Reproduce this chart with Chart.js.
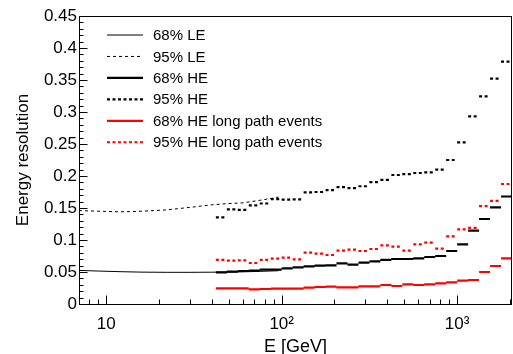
<!DOCTYPE html>
<html>
<head>
<meta charset="utf-8">
<script src="https://cdn.jsdelivr.net/npm/chart.js@4.4.1/dist/chart.umd.min.js"></script>
<style>
  body { margin: 0; background: #fff; }
  canvas { display: block; }
</style>
</head>
<body>
<canvas id="resChart" width="513" height="354"></canvas>
<script>
const FONT = "'Liberation Sans', Arial, Helvetica, sans-serif";

// HE histogram bin edges in GeV (16 bins per decade)
const binEdges = [42.17, 48.70, 56.23, 64.94, 74.99, 86.60, 100.0, 115.48, 133.35, 153.99,
  177.83, 205.35, 237.14, 273.84, 316.23, 365.17, 421.70, 486.97, 562.34, 649.38,
  749.89, 865.96, 1000.0, 1154.78, 1333.52, 1539.93, 1778.28, 2053.53];

const he68 = [0.0495, 0.0505, 0.0516, 0.052, 0.0536, 0.0536, 0.0557, 0.0573, 0.0589, 0.0600,
  0.0604, 0.0635, 0.0615, 0.0646, 0.0667, 0.0688, 0.0703, 0.0703, 0.0714, 0.0734,
  0.075, 0.0828, 0.0932, 0.1146, 0.1328, 0.151, 0.168];
const he95 = [0.1354, 0.148, 0.147, 0.154, 0.157, 0.164, 0.163, 0.1636, 0.1745, 0.175,
  0.178, 0.1825, 0.181, 0.184, 0.1905, 0.194, 0.2016, 0.203, 0.2047, 0.2057,
  0.210, 0.225, 0.2526, 0.2933, 0.3245, 0.352, 0.3786];
const lp68 = [0.0245, 0.0245, 0.0245, 0.0229, 0.0234, 0.024, 0.024, 0.024, 0.0255, 0.0266,
  0.0271, 0.026, 0.026, 0.0276, 0.0276, 0.0297, 0.0281, 0.0307, 0.0297, 0.0307,
  0.0323, 0.0339, 0.0365, 0.0375, 0.05, 0.0594, 0.0714];
const lp95 = [0.0688, 0.0677, 0.0682, 0.0641, 0.0688, 0.0708, 0.0724, 0.0698, 0.0802, 0.0786,
  0.0766, 0.0833, 0.0849, 0.0828, 0.0859, 0.0917, 0.0896, 0.0833, 0.0932, 0.0958,
  0.0865, 0.1057, 0.1167, 0.1188, 0.153, 0.161, 0.1875];

// LE curves
const leEnergy68 = [7, 9, 12, 16, 22, 30, 40, 55, 75, 96];
const le68 = [0.0525, 0.0515, 0.0505, 0.0498, 0.0495, 0.0495, 0.0497, 0.05, 0.051, 0.052];
const leEnergy95 = [7, 9, 12, 16, 22, 30, 40, 50, 60, 75, 96];
const le95 = [0.146, 0.145, 0.144, 0.145, 0.147, 0.151, 0.155, 0.157, 0.158, 0.162, 0.167];

const xTicks = [10, 100, 1000];
const xTickLabels = ['10', '10\u00B2', '10\u00B3'];
const xMinorTicks = [8, 9, 20, 30, 40, 50, 60, 70, 80, 90, 200, 300, 400, 500, 600, 700, 800, 900, 2000];
const yTicks = [0, 0.05, 0.1, 0.15, 0.2, 0.25, 0.3, 0.35, 0.4, 0.45];
const yTickLabels = ['0', '0.05', '0.1', '0.15', '0.2', '0.25', '0.3', '0.35', '0.4', '0.45'];

const seriesLabels = ['68% LE', '95% LE', '68% HE', '95% HE',
  '68% HE long path events', '95% HE long path events'];

// one horizontal segment per bin, broken between bins
function histPoints(vals) {
  const pts = [];
  vals.forEach((v, i) => {
    pts.push({x: binEdges[i], y: v}, {x: binEdges[i + 1], y: v}, {x: binEdges[i + 1], y: null});
  });
  return pts;
}

function curvePoints(xs, ys) {
  return xs.map((x, i) => ({x: x, y: ys[i]}));
}

const dotted = [3, 2.5];

const datasets = [
  {label: seriesLabels[0], data: curvePoints(leEnergy68, le68), borderColor: '#000', borderWidth: 1},
  {label: seriesLabels[1], data: curvePoints(leEnergy95, le95), borderColor: '#000', borderWidth: 1, borderDash: [3, 3]},
  {label: seriesLabels[2], data: histPoints(he68), borderColor: '#000', borderWidth: 2.2},
  {label: seriesLabels[3], data: histPoints(he95), borderColor: '#000', borderWidth: 2.2, borderDash: dotted},
  {label: seriesLabels[4], data: histPoints(lp68), borderColor: '#ff0000', borderWidth: 2.2},
  {label: seriesLabels[5], data: histPoints(lp95), borderColor: '#ff0000', borderWidth: 2.2, borderDash: dotted}
];
datasets.forEach(d => { d.pointRadius = 0; d.tension = 0; d.spanGaps = false; d.fill = false; });

// frame, inward ticks and legend box drawn on top of the plot
const framePlugin = {
  id: 'frame',
  afterDraw(chart) {
    const ctx = chart.ctx;
    const area = chart.chartArea;
    const xs = chart.scales.x, ys = chart.scales.y;
    ctx.save();
    ctx.strokeStyle = '#000';
    ctx.lineWidth = 1;
    ctx.setLineDash([]);
    ctx.strokeRect(Math.round(area.left) + 0.5, Math.round(area.top) + 0.5,
      Math.round(area.right - area.left) - 1, Math.round(area.bottom - area.top));

    ctx.beginPath();
    const bottom = Math.round(area.bottom) + 0.5;
    xTicks.forEach(v => {
      const px = Math.round(xs.getPixelForValue(v)) + 0.5;
      ctx.moveTo(px, bottom); ctx.lineTo(px, bottom - 9);
    });
    xMinorTicks.forEach(v => {
      const px = Math.round(xs.getPixelForValue(v)) + 0.5;
      ctx.moveTo(px, bottom); ctx.lineTo(px, bottom - 5);
    });
    const left = Math.round(area.left) + 0.5;
    for (let i = 0; i <= 45; i++) {
      const py = Math.round(ys.getPixelForValue(i / 100)) + 0.5;
      const len = i % 5 === 0 ? 8 : 4;
      ctx.moveTo(left, py); ctx.lineTo(left + len, py);
    }
    ctx.stroke();

    // legend
    ctx.font = '15px ' + FONT;
    ctx.textBaseline = 'middle';
    ctx.fillStyle = '#000';
    chart.data.datasets.forEach((d, i) => {
      const y = 35 + i * 21.45;
      ctx.beginPath();
      ctx.setLineDash(d.borderDash || []);
      ctx.lineWidth = d.borderWidth;
      ctx.strokeStyle = d.borderColor;
      ctx.moveTo(107, y); ctx.lineTo(143, y);
      ctx.stroke();
      ctx.fillText(d.label, 153, y + 1);
    });
    ctx.restore();
  }
};

new Chart(document.getElementById('resChart'), {
  type: 'line',
  data: {datasets: datasets},
  plugins: [framePlugin],
  options: {
    responsive: false,
    animation: false,
    events: [],
    layout: {padding: {top: 16, right: 1, left: 0, bottom: 0}},
    plugins: {legend: {display: false}, tooltip: {enabled: false}},
    scales: {
      x: {
        type: 'logarithmic',
        min: 7,
        max: 2053.53,
        grid: {display: false, drawTicks: false},
        border: {display: false},
        afterBuildTicks: s => { s.ticks = xTicks.map(v => ({value: v, major: true})); },
        afterFit: s => { s.height = 50; },
        ticks: {
          autoSkip: false,
          maxRotation: 0,
          padding: 10,
          color: '#000',
          font: {family: FONT, size: 17},
          callback: (v, i) => xTickLabels[i]
        },
        title: {
          display: true,
          text: 'E [GeV]',
          color: '#000',
          font: {family: FONT, size: 18, lineHeight: 1},
          padding: {top: 0, bottom: -2}
        }
      },
      y: {
        type: 'linear',
        min: 0,
        max: 0.45,
        grid: {display: false, drawTicks: false},
        border: {display: false},
        afterBuildTicks: s => { s.ticks = yTicks.map(v => ({value: v})); },
        afterFit: s => { s.width = 79; },
        ticks: {
          autoSkip: false,
          padding: 2,
          color: '#000',
          font: {family: FONT, size: 17},
          callback: (v, i) => yTickLabels[i]
        },
        title: {
          display: true,
          text: 'Energy resolution',
          color: '#000',
          font: {family: FONT, size: 17, lineHeight: 1.2},
          padding: {top: 13, bottom: 0}
        }
      }
    }
  }
});
</script>
</body>
</html>
